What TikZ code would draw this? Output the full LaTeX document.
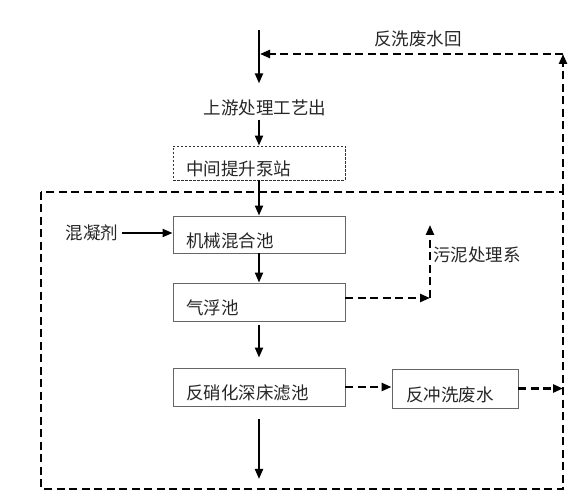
\documentclass[tikz,border=0pt]{standalone}
\usepackage{fontspec}
\setmainfont{Noto Sans CJK SC}
\usetikzlibrary{arrows.meta}

% text set a little lower than the middle of its box
\newcommand{\lowtxt}[1]{\raisebox{-13pt}[0pt][0pt]{#1}}

\begin{document}
\begin{tikzpicture}[
  x=1pt, y=-1pt,
  every node/.style={font=\fontsize{17.5}{20}\selectfont, text=black!85},
  stage/.style={rectangle, draw=black!60, line width=0.9pt,
    minimum width=172pt, minimum height=37pt, inner xsep=13pt,
    text width=146pt, align=left},
  flow/.style={-{Triangle[length=10pt,width=8pt]}, line width=2pt},
  back/.style={-{Triangle[length=10pt,width=8pt]}, line width=2.4pt,
    dash pattern=on 8pt off 4.5pt},
]
  \useasboundingbox (0,0) rectangle (584,502);

  % plant boundary
  \draw[line width=2.4pt, dash pattern=on 8pt off 4.5pt] (41,192) rectangle (563,489);

  \node[stage, draw=black!80, dash pattern=on 2.5pt off 1.5pt, minimum height=34pt] (pump) at (259,163) {\lowtxt{中间提升泵站}};
  \node[stage] (mix) at (259,234.5) {\lowtxt{机械混合池}};
  \node[stage, minimum height=38pt] (flot) at (259,302) {\lowtxt{气浮池}};
  \node[stage, minimum height=38pt] (filt) at (259,387) {\lowtxt{反硝化深床滤池}};
  \node[stage, minimum width=126pt, text width=98pt, inner xsep=14pt,
    minimum height=39pt] (bwash) at (455,388.5) {\lowtxt{反冲洗废水}};

  \node (upst) at (265,108) {上游处理工艺出};
  \node (coag) at (92,233) {混凝剂};
  \node[anchor=west, inner sep=0pt] (sludge) at (433,255) {污泥处理系};
  \node (retlbl) at (418,39) {反洗废水回};

  \coordinate (inlet) at (259,30);
  \coordinate (outlet) at (259,479);
  \coordinate (sludgebend) at (430,298);
  \coordinate (sludgetop) at (430,225);
  \coordinate (retbottom) at (563,192);
  \coordinate (rettop) at (563,54);

  % main line
  \draw[flow, shorten >=13pt] (inlet) -- (inlet |- upst.north);
  \draw[flow] (upst.south -| pump.north) -- (pump.north);
  \draw[flow] (pump) -- (mix);
  \draw[flow] (mix) -- (flot);
  \draw[flow, shorten <=4pt, shorten >=10pt] (flot) -- (filt);
  \draw[flow, shorten <=13pt] (filt) -- (outlet);
  \draw[flow] (coag.east) -- (coag.east -| mix.west);

  % sludge and backwash
  \draw[back] (flot.east |- sludgebend) -- (sludgebend);
  \draw[back] (sludgebend) -- (sludgetop);
  \draw[back] (filt.east) -- (filt.east -| bwash.west);
  \draw[back] (bwash.east) -- (bwash.east -| retbottom);
  \draw[back] (retbottom) -- (rettop);
  \draw[back, shorten >=1pt] (rettop) -- (inlet |- rettop);
\end{tikzpicture}
\end{document}
